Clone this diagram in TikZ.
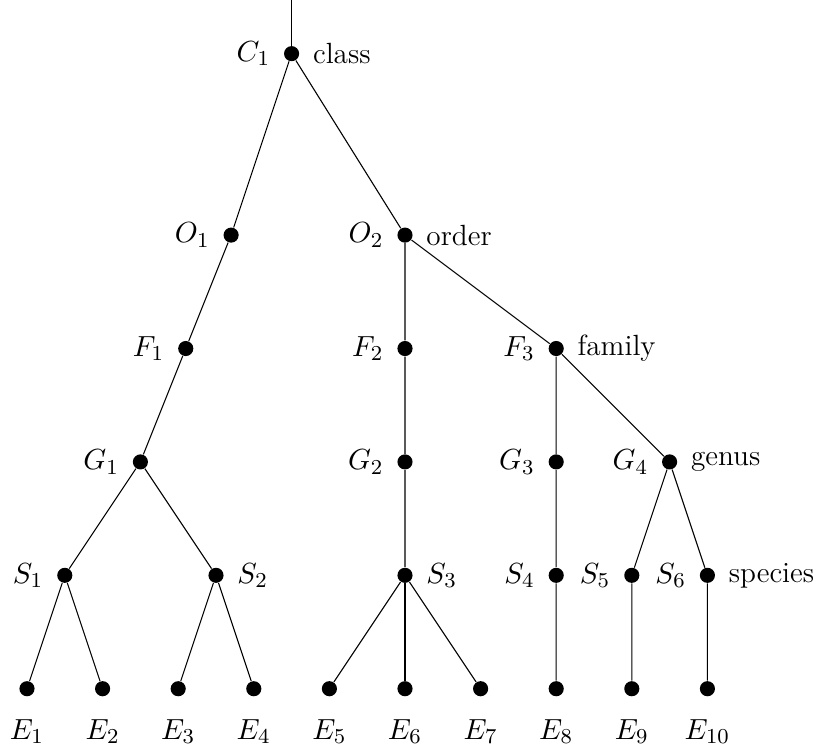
\documentclass[tikz,border=0pt]{standalone}
\usepackage{amsmath}
\usepackage{tikz}
\usetikzlibrary{positioning}

\begin{document}
\begin{tikzpicture}[
  vtx/.style={circle,fill=black,inner sep=0pt,minimum size=0.2cm},
  every label/.style={font=\fontsize{11}{13}\selectfont},
  label distance=1.5pt,
  lowlbl/.style={label={[label distance=5pt]below:$E_{#1}$}}
]
\useasboundingbox (-0.357,-0.794) rectangle (10.476,9.11);
\coordinate (top) at (3.5,9.11);
\node[vtx,label=left:$C_1$,label=right:class] (C1) at (3.5,8.4) {};
\node[vtx,label=left:$O_1$] (O1) at (2.7,6) {};
\node[vtx,label=left:$O_2$,label=right:order] (O2) at (5,6) {};
\node[vtx,label=left:$F_1$] (F1) at (2.1,4.5) {};
\node[vtx,label=left:$F_2$] (F2) at (5,4.5) {};
\node[vtx,label=left:$F_3$,label=right:family] (F3) at (7,4.5) {};
\node[vtx,label=left:$G_1$] (G1) at (1.5,3) {};
\node[vtx,label=left:$G_2$] (G2) at (5,3) {};
\node[vtx,label=left:$G_3$] (G3) at (7,3) {};
\node[vtx,label=left:$G_4$,label=right:genus] (G4) at (8.5,3) {};
\node[vtx,label=left:$S_1$] (S1) at (0.5,1.5) {};
\node[vtx,label=right:$S_2$] (S2) at (2.5,1.5) {};
\node[vtx,label=right:$S_3$] (S3) at (5,1.5) {};
\node[vtx,label=left:$S_4$] (S4) at (7,1.5) {};
\node[vtx,label=left:$S_5$] (S5) at (8,1.5) {};
\node[vtx,label=left:$S_6$,label=right:species] (S6) at (9,1.5) {};
\foreach \i in {1,...,10}
  \node[vtx,lowlbl=\i] (E\i) at (\i-1,0) {};
% edges
\draw (top) -- (C1);
\draw (C1) -- (O1) -- (F1) -- (G1);
\draw (G1) -- (S1); \draw (G1) -- (S2);
\draw (S1) -- (E1); \draw (S1) -- (E2); \draw (S2) -- (E3); \draw (S2) -- (E4);
\draw (C1) -- (O2) -- (F2) -- (G2) -- (S3);
\draw (S3) -- (E5); \draw (S3) -- (E6); \draw (S3) -- (E7);
\draw (O2) -- (F3) -- (G3) -- (S4) -- (E8);
\draw (F3) -- (G4);
\draw (G4) -- (S5) -- (E9); \draw (G4) -- (S6) -- (E10);
\end{tikzpicture}
\end{document}
